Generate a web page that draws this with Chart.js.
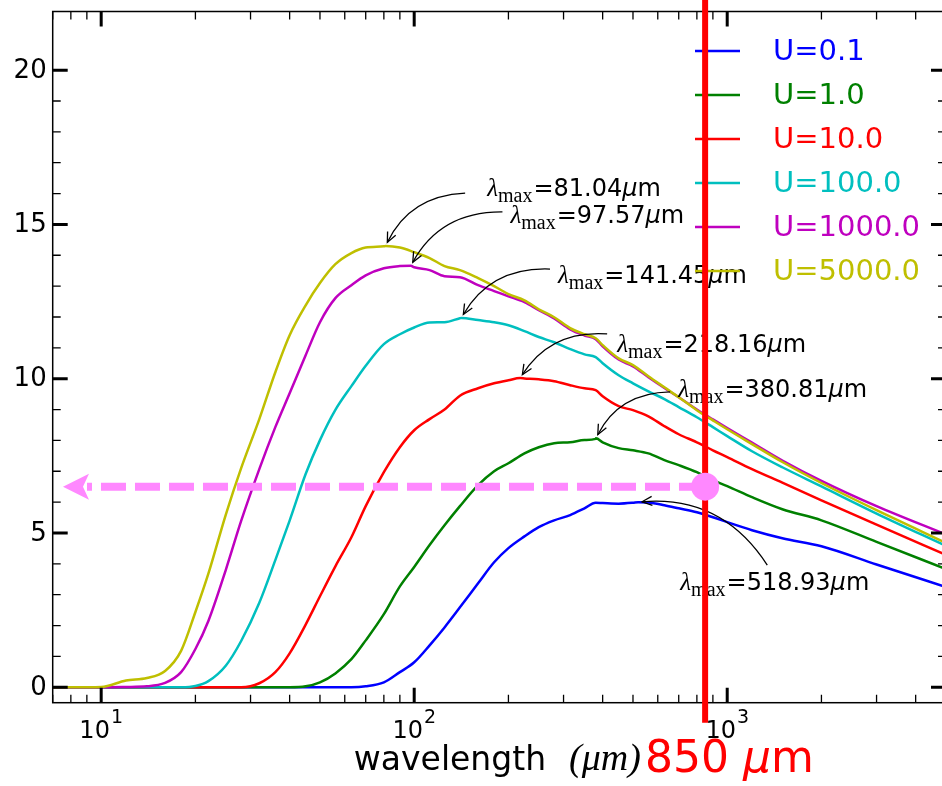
<!DOCTYPE html>
<html>
<head>
<meta charset="utf-8">
<script src="https://cdn.jsdelivr.net/npm/chart.js@4.4.1/dist/chart.umd.min.js"></script>
<style>
  html, body { margin: 0; padding: 0; background: #fff; overflow: hidden; }
  #wrap { position: relative; width: 950px; height: 786px; }
</style>
</head>
<body>
<div id="wrap"><canvas id="sedChart" width="950" height="786"></canvas></div>
<script>
// wavelength grid (micron) shared by every SED curve
const wavelengths = [7, 8, 10, 12, 14, 16, 18, 20, 22, 25, 28, 32, 36, 40, 45, 50, 56, 63, 70, 80,
  90, 100, 112, 125, 140, 160, 180, 200, 225, 250, 280, 315, 350, 380, 400, 450, 500, 560, 630, 700,
  800, 900, 1000, 1200, 1500, 2000, 3000, 5000];

const fluxU01 = [0, 0, 0, 0, 0, 0, 0, 0, 0, 0, 0, 0, 0, 0, 0, 0, 0, 0, 0.03, 0.16,
  0.49, 0.81, 1.36, 1.94, 2.59, 3.37, 4.05, 4.51, 4.89, 5.19, 5.41, 5.58, 5.80, 5.98, 5.97, 5.95, 5.98, 5.99, 5.90, 5.80,
  5.67, 5.51, 5.35, 5.09, 4.83, 4.57, 3.98, 3.25];
const fluxU1 = [0, 0, 0, 0, 0, 0, 0, 0, 0, 0, 0, 0, 0, 0, 0.03, 0.16, 0.45, 0.91, 1.52, 2.37,
  3.27, 3.90, 4.61, 5.25, 5.87, 6.55, 7.00, 7.26, 7.58, 7.78, 7.91, 7.94, 8.01, 8.05, 7.94, 7.75, 7.68, 7.58, 7.36, 7.20,
  6.97, 6.71, 6.52, 6.16, 5.77, 5.41, 4.71, 3.83];
const fluxU10 = [0, 0, 0, 0, 0, 0, 0, 0, 0, 0, 0, 0.13, 0.49, 1.10, 2.03, 2.95, 3.92, 4.86, 5.87, 6.97,
  7.78, 8.33, 8.69, 9.00, 9.45, 9.69, 9.85, 9.95, 10.01, 9.98, 9.92, 9.79, 9.69, 9.63, 9.43, 9.11, 8.98, 8.78, 8.46, 8.20,
  7.94, 7.68, 7.46, 7.07, 6.63, 6.06, 5.27, 4.29];
const fluxU100 = [0, 0, 0, 0, 0, 0, 0, 0.04, 0.20, 0.70, 1.50, 2.74, 4.12, 5.40, 6.91, 8.01, 8.99, 9.76, 10.42, 11.12,
  11.44, 11.66, 11.82, 11.83, 11.96, 11.90, 11.83, 11.73, 11.54, 11.35, 11.18, 10.96, 10.79, 10.70, 10.50, 10.11, 9.85, 9.59, 9.34, 9.08,
  8.75, 8.43, 8.14, 7.65, 7.13, 6.51, 5.63, 4.58];
const fluxU1000 = [0, 0, 0, 0.01, 0.03, 0.14, 0.49, 1.24, 2.15, 3.80, 5.39, 7.07, 8.43, 9.53, 10.76, 11.83, 12.61, 13.03, 13.35, 13.58,
  13.65, 13.61, 13.52, 13.32, 13.29, 13.03, 12.84, 12.67, 12.48, 12.22, 11.95, 11.60, 11.40, 11.28, 11.05, 10.62, 10.40, 10.05, 9.70, 9.40,
  9.00, 8.68, 8.40, 7.93, 7.35, 6.69, 5.87, 4.95];
const fluxU5000 = [0, 0, 0.01, 0.22, 0.30, 0.53, 1.18, 2.44, 3.68, 5.59, 7.10, 8.69, 10.21, 11.41, 12.38, 13.10, 13.71, 14.07, 14.25, 14.29,
  14.25, 14.10, 13.91, 13.65, 13.52, 13.26, 13.00, 12.74, 12.54, 12.25, 11.99, 11.64, 11.44, 11.31, 11.09, 10.66, 10.44, 10.08, 9.72, 9.40,
  8.98, 8.65, 8.36, 7.88, 7.30, 6.62, 5.74, 4.68];

const radiationFields = ["U=0.1", "U=1.0", "U=10.0", "U=100.0", "U=1000.0", "U=5000.0"];
// peak wavelength and peak height of each curve
const lambdaMax = [518.93, 380.81, 218.16, 141.45, 97.57, 81.04];
const peakValues = [6.0, 8.07, 10.02, 11.97, 13.66, 14.30];

const yTicks = [0, 5, 10, 15, 20];
const xDecades = [1, 2, 3];

const bandLambda = 850;
const bandLevel = 6.5;
const bandArrowEnd = 7.55;

const fluxSeries = [fluxU01, fluxU1, fluxU10, fluxU100, fluxU1000, fluxU5000];
const seriesColors = ['#0000ff', '#008000', '#ff0000', '#00bfbf', '#bf00bf', '#bfbf00'];

// text anchor of each λmax label (data units) and where its arrow leaves the text (px)
const labelPlacement = [
  { x: 708, y: 3.15, ax: 87, ay: -25 },
  { x: 697, y: 9.41, ax: -8, ay: -5 },
  { x: 445, y: 10.87, ax: -10, ay: -18 },
  { x: 288, y: 13.10, ax: -8, ay: -14 },
  { x: 203, y: 15.05, ax: -8, ay: -11 },
  { x: 171, y: 15.92, ax: -22, ay: -3 }
];

function buildPoints(values, peakX, peakY) {
  const pts = wavelengths.map((w, k) => ({ x: w, y: values[k] }));
  pts.push({ x: peakX, y: peakY });
  pts.sort((a, b) => a.x - b.x);
  return pts;
}

const datasets = fluxSeries.map((vals, i) => ({
  label: radiationFields[i],
  data: buildPoints(vals, lambdaMax[i], peakValues[i]),
  borderColor: seriesColors[i],
  borderWidth: 2.5,
  pointRadius: 0,
  fill: false,
  cubicInterpolationMode: 'monotone',
  order: fluxSeries.length - i
}));

const SANS = '"DejaVu Sans"';
const SERIF = '"Liberation Serif"';

function curvedArrow(ctx, sx, sy, tx, ty, rad) {
  const dx = tx - sx, dy = ty - sy;
  const cx = (sx + tx) / 2 - rad * dy;
  const cy = (sy + ty) / 2 + rad * dx;
  const ang = Math.atan2(ty - cy, tx - cx);
  const ex = tx - 4 * Math.cos(ang), ey = ty - 4 * Math.sin(ang);
  ctx.beginPath();
  ctx.moveTo(sx, sy);
  ctx.quadraticCurveTo(cx, cy, ex, ey);
  ctx.stroke();
  const hl = 11, hw = 0.42;
  ctx.beginPath();
  ctx.moveTo(ex - hl * Math.cos(ang - hw), ey - hl * Math.sin(ang - hw));
  ctx.lineTo(ex, ey);
  ctx.lineTo(ex - hl * Math.cos(ang + hw), ey - hl * Math.sin(ang + hw));
  ctx.stroke();
}

// λ_max=xxx.xxμm with a serif lambda and subscript
function lambdaLabel(ctx, x, y, value) {
  ctx.textAlign = 'left';
  ctx.textBaseline = 'alphabetic';
  ctx.fillStyle = '#000';
  let px = x;
  ctx.font = 'italic 25px ' + SERIF;
  ctx.fillText('λ', px, y);
  px += ctx.measureText('λ').width;
  ctx.font = '20px ' + SERIF;
  ctx.fillText('max', px, y + 6);
  px += ctx.measureText('max').width + 1;
  ctx.font = '24px ' + SANS;
  const t = '=' + value.toFixed(2);
  ctx.fillText(t, px, y);
  px += ctx.measureText(t).width;
  ctx.font = 'italic 24px ' + SANS;
  ctx.fillText('μ', px, y);
  px += ctx.measureText('μ').width;
  ctx.font = '24px ' + SANS;
  ctx.fillText('m', px, y);
}

const overlay = {
  id: 'sedOverlay',
  afterDatasetsDraw(chart) {
    const { ctx, chartArea: a, scales } = chart;
    const xs = scales.x, ys = scales.y;
    ctx.save();

    // frame
    ctx.strokeStyle = '#000';
    ctx.lineWidth = 1.5;
    ctx.strokeRect(a.left, a.top, a.right - a.left, a.bottom - a.top);

    // inward ticks, y on both sides
    for (let v = 0; v <= 20; v++) {
      const py = ys.getPixelForValue(v);
      const major = v % 5 === 0;
      const len = major ? 15 : 8;
      ctx.lineWidth = major ? 3 : 1.3;
      ctx.beginPath();
      ctx.moveTo(a.left, py); ctx.lineTo(a.left + len, py);
      ctx.moveTo(a.right, py); ctx.lineTo(a.right - len, py);
      ctx.stroke();
    }
    // inward ticks, x on top and bottom
    for (let d = 0; d <= 3; d++) {
      for (let m = 1; m <= 9; m++) {
        const w = m * Math.pow(10, d);
        if (w < xs.min || w > xs.max) continue;
        const px = xs.getPixelForValue(w);
        const major = m === 1;
        const len = major ? 15 : 8;
        ctx.lineWidth = major ? 3 : 1.3;
        ctx.beginPath();
        ctx.moveTo(px, a.bottom); ctx.lineTo(px, a.bottom - len);
        ctx.moveTo(px, a.top); ctx.lineTo(px, a.top + len);
        ctx.stroke();
      }
    }

    // tick labels
    ctx.fillStyle = '#000';
    ctx.font = '26px ' + SANS;
    ctx.textAlign = 'right';
    ctx.textBaseline = 'middle';
    yTicks.forEach(v => ctx.fillText(String(v), a.left - 6, ys.getPixelForValue(v) + 1));

    ctx.textBaseline = 'alphabetic';
    ctx.textAlign = 'left';
    xDecades.forEach(d => {
      const px = xs.getPixelForValue(Math.pow(10, d));
      ctx.font = '24px ' + SANS;
      const wb = ctx.measureText('10').width;
      ctx.font = '19px ' + SANS;
      const ws = ctx.measureText(String(d)).width;
      const left = px - (wb + 1 + ws) / 2;
      ctx.font = '24px ' + SANS;
      ctx.fillText('10', left, a.bottom + 35);
      ctx.font = '19px ' + SANS;
      ctx.fillText(String(d), left + wb + 1, a.bottom + 20);
    });

    // x axis title
    ctx.font = '33px ' + SANS;
    const t1 = 'wavelength  ';
    const w1 = ctx.measureText(t1).width;
    ctx.font = 'italic 38px ' + SERIF;
    const t2 = '(μm)';
    const w2 = ctx.measureText(t2).width;
    const cxTitle = (a.left + a.right) / 2;
    let tx = cxTitle - (w1 + w2) / 2 - 3;
    ctx.font = '33px ' + SANS;
    ctx.fillText(t1, tx, a.bottom + 67);
    ctx.font = 'italic 38px ' + SERIF;
    ctx.fillText(t2, tx + w1 + 2, a.bottom + 67);

    // λmax annotations
    ctx.strokeStyle = '#000';
    ctx.lineWidth = 1.3;
    labelPlacement.forEach((p, i) => {
      const lx = xs.getPixelForValue(p.x), ly = ys.getPixelForValue(p.y);
      lambdaLabel(ctx, lx, ly, lambdaMax[i]);
      curvedArrow(ctx, lx + p.ax, ly + p.ay,
        xs.getPixelForValue(lambdaMax[i]), ys.getPixelForValue(peakValues[i]), 0.3);
    });

    // legend
    const legX = a.right - 251, legY = a.top + 39.5;
    ctx.font = '29px ' + SANS;
    ctx.textBaseline = 'middle';
    radiationFields.forEach((name, i) => {
      const ry = legY + i * 44;
      ctx.strokeStyle = seriesColors[i];
      ctx.lineWidth = 2.5;
      ctx.beginPath();
      ctx.moveTo(legX, ry); ctx.lineTo(legX + 45, ry);
      ctx.stroke();
      ctx.fillStyle = seriesColors[i];
      ctx.fillText(name, legX + 78, ry + 1);
    });

    // 850 micron marker line
    const bx = xs.getPixelForValue(bandLambda);
    ctx.strokeStyle = '#ff0000';
    ctx.lineWidth = 6;
    ctx.beginPath();
    ctx.moveTo(bx, 0); ctx.lineTo(bx, a.bottom + 20);
    ctx.stroke();

    ctx.fillStyle = '#ff0000';
    ctx.textBaseline = 'alphabetic';
    ctx.font = '44px ' + SANS;
    let bxText = bx - 60;
    ctx.fillText('850 ', bxText, a.bottom + 69);
    bxText += ctx.measureText('850 ').width;
    ctx.font = 'italic 44px ' + SANS;
    ctx.fillText('μ', bxText, a.bottom + 69);
    bxText += ctx.measureText('μ').width;
    ctx.font = '44px ' + SANS;
    ctx.fillText('m', bxText, a.bottom + 69);

    // dashed read-off arrow toward the y axis
    const by = ys.getPixelForValue(bandLevel);
    const tipX = xs.getPixelForValue(bandArrowEnd);
    const headLen = 24;
    ctx.strokeStyle = '#ff88ff';
    ctx.fillStyle = '#ff88ff';
    ctx.lineWidth = 8;
    ctx.setLineDash([25, 9]);
    ctx.lineDashOffset = 20;
    ctx.beginPath();
    ctx.moveTo(tipX + headLen, by); ctx.lineTo(bx, by);
    ctx.stroke();
    ctx.setLineDash([]);
    ctx.beginPath();
    ctx.moveTo(tipX, by);
    ctx.lineTo(tipX + headLen + 2, by - 13);
    ctx.lineTo(tipX + headLen - 4, by);
    ctx.lineTo(tipX + headLen + 2, by + 13);
    ctx.closePath();
    ctx.fill();
    ctx.beginPath();
    ctx.arc(bx, by, 14, 0, Math.PI * 2);
    ctx.fill();

    ctx.restore();
  }
};

new Chart(document.getElementById('sedChart').getContext('2d'), {
  type: 'line',
  data: { datasets: datasets },
  options: {
    responsive: false,
    animation: false,
    layout: { padding: { left: 52.7, right: 4, top: 11.5, bottom: 83.3 } },
    scales: {
      x: { type: 'logarithmic', min: 7, max: 5000, display: false },
      y: { type: 'linear', min: -0.5, max: 21.9, display: false }
    },
    plugins: { legend: { display: false }, tooltip: { enabled: false } }
  },
  plugins: [overlay]
});
</script>
</body>
</html>
